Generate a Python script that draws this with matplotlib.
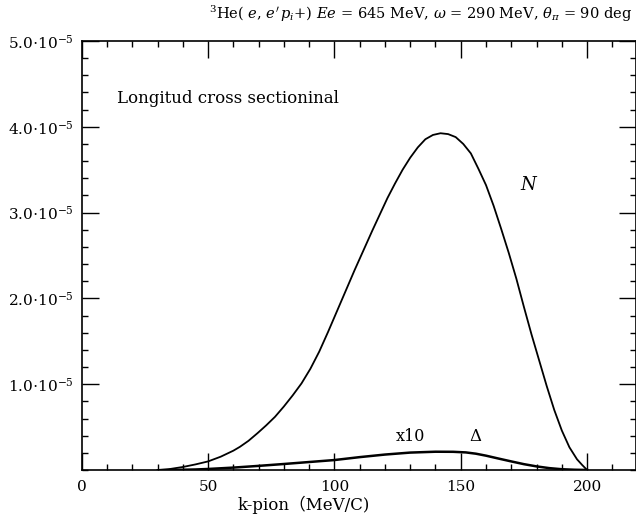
import matplotlib
matplotlib.use('Agg')
import matplotlib.pyplot as plt
from matplotlib.ticker import FixedLocator, FixedFormatter, MultipleLocator

plt.rcParams['font.family'] = ['DejaVu Serif', 'Noto Sans CJK JP']
plt.rcParams['mathtext.fontset'] = 'dejavuserif'

# N curve, cross section in units of 1e-5
k_n = [30, 35, 40, 45, 50, 55, 60, 62.6, 66, 69.6, 73, 76.5, 80, 83.5, 87, 90.5,
       94, 97.5, 101, 104.5, 108, 111.5, 115, 118, 121, 124, 127, 130, 133, 136,
       139, 142, 145, 148, 151, 154, 157, 160, 163, 166, 169, 172, 175, 178, 181,
       184, 187, 190, 193, 196, 198, 200]
sig_n = [0.0, 0.012, 0.035, 0.065, 0.10, 0.155, 0.225, 0.27, 0.34, 0.43, 0.52, 0.62,
         0.74, 0.87, 1.01, 1.18, 1.38, 1.61, 1.85, 2.09, 2.33, 2.56, 2.79, 2.98,
         3.17, 3.34, 3.50, 3.64, 3.76, 3.855, 3.905, 3.925, 3.915, 3.88, 3.80,
         3.69, 3.51, 3.32, 3.08, 2.81, 2.53, 2.23, 1.90, 1.58, 1.28, 0.98, 0.70,
         0.46, 0.265, 0.125, 0.06, 0.0]

# Delta curve (x10)
k_d = [35, 45, 50, 60, 70, 80, 90, 100, 110, 120, 130, 140, 147, 152, 156, 160,
       165, 170, 175, 180, 185, 190, 195, 200]
sig_d = [0.0, 0.006, 0.012, 0.028, 0.048, 0.07, 0.093, 0.116, 0.15, 0.18, 0.203,
         0.213, 0.212, 0.205, 0.19, 0.167, 0.133, 0.1, 0.068, 0.042, 0.022, 0.009,
         0.003, 0.0]

ytick_vals = [1.0, 2.0, 3.0, 4.0, 5.0]
ytick_labels = [r'1.0$\cdot$10$^{-5}$', r'2.0$\cdot$10$^{-5}$', r'3.0$\cdot$10$^{-5}$',
                r'4.0$\cdot$10$^{-5}$', r'5.0$\cdot$10$^{-5}$']
xtick_vals = [0, 50, 100, 150, 200]
xtick_labels = ['0', '50', '100', '150', '200']

W, H = 636, 522
fig = plt.figure(figsize=(W / 100, H / 100), dpi=100)
left, right, top, bottom = 81.7, 635.5, 41, 470
ax = fig.add_axes([left / W, 1 - bottom / H, (right - left) / W, (bottom - top) / H])

ax.plot(k_n, sig_n, color='black', lw=1.3)
ax.plot(k_d, sig_d, color='black', lw=1.8)

ax.set_xlim(0, (right - left) / 2.527)
ax.set_ylim(0, 5.0)

ax.xaxis.set_major_locator(FixedLocator(xtick_vals))
ax.xaxis.set_major_formatter(FixedFormatter(xtick_labels))
ax.xaxis.set_minor_locator(MultipleLocator(10))
ax.yaxis.set_major_locator(FixedLocator(ytick_vals))
ax.yaxis.set_major_formatter(FixedFormatter(ytick_labels))
ax.yaxis.set_minor_locator(MultipleLocator(0.2))

ax.tick_params(which='both', direction='in', top=True, right=True, width=1.0,
               labelsize=11, colors='black')
ax.tick_params(which='major', length=12.5)
ax.tick_params(which='minor', length=4.5)
ax.tick_params(axis='x', which='major', pad=7)
ax.tick_params(axis='y', which='major', pad=6)
for s in ax.spines.values():
    s.set_linewidth(1.2)

ax.text(14, 4.28, 'Longitud cross sectioninal', fontsize=12, ha='left', va='baseline')
ax.text(177, 3.32, r'$N$', fontsize=13, ha='center', va='center')
ax.text(130, 0.385, 'x10', fontsize=11.5, ha='center', va='center')
ax.text(155.7, 0.385, r'$\Delta$', fontsize=12, ha='center', va='center')

fig.text(304 / W, 1 - 505 / H, 'k-pion（MeV/C)', fontsize=12, ha='center', va='center')
fig.text(632 / W, 1 - 14 / H,
         r"$^3$He( $e$, $e'\,p_i$+) $Ee$ = 645 MeV, $\omega$ = 290 MeV, $\theta_\pi$ = 90 deg",
         fontsize=10.5, ha='right', va='center')

fig.savefig('out.png', dpi=100)
